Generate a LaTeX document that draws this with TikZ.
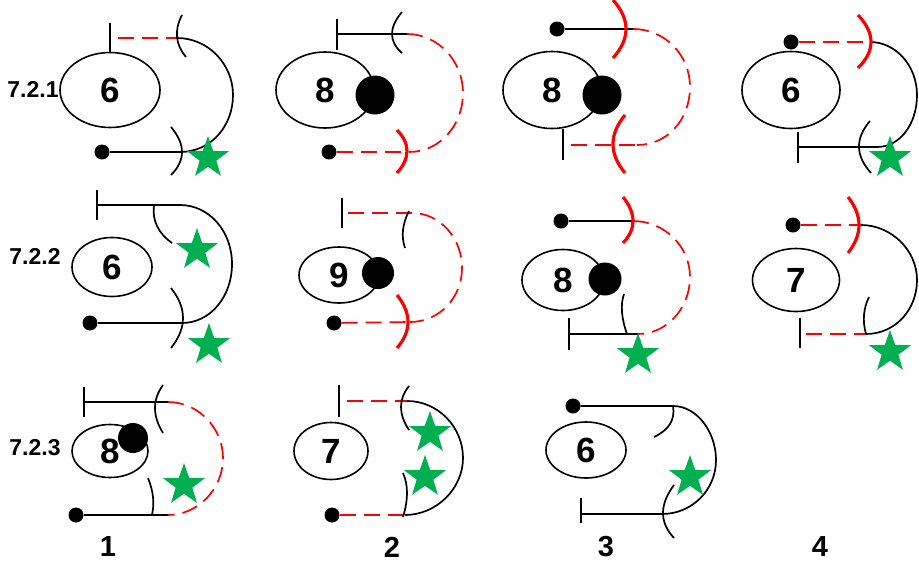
\documentclass[tikz,border=0pt]{standalone}
\usepackage{fontspec}
\setmainfont{Liberation Sans}
\usetikzlibrary{shapes.geometric,calc}

\definecolor{starg}{RGB}{0,176,80}

\tikzset{
  oval/.style={draw, ellipse, line width=1.6pt, inner sep=0pt, outer sep=0pt,
    font=\bfseries\fontsize{35}{35}\selectfont},
  blob/.style={circle, fill=black, inner sep=0pt},
  knob/.style={circle, fill=black, inner sep=0pt, minimum size=15},
  blackline/.style={line width=1.7pt},
  redline/.style={red, line width=1.7pt, dash pattern=on 16pt off 8pt},
  redarc/.style={red, line width=3.2pt},
  greenstar/.style={star, star points=5, star point ratio=2.5, fill=starg,
    inner sep=0pt, minimum size=44},
  rowtag/.style={inner sep=0pt, font=\bfseries\fontsize{23}{23}\selectfont},
  coltag/.style={inner sep=0pt, font=\bfseries\fontsize{29}{29}\selectfont}
}

% three points of a bracket: end, middle, end
\newcommand{\parenarc}[4]{\draw[#1] (#2) .. controls ($1.3333*(#3)-0.3333*(#4)$)
  and ($1.3333*(#3)-0.3333*(#2)$) .. (#4);}

\begin{document}
\begin{tikzpicture}[x=1pt,y=-1pt]
  \useasboundingbox (0,0) rectangle (919,563);

  \node[rowtag] (r1) at (33,89) {7.2.1};
  \node[rowtag] (r2) at (35,256) {7.2.2};
  \node[rowtag] (r3) at (35,448) {7.2.3};
  \node[coltag] (c1) at (108,547) {1};
  \node[coltag] (c2) at (392,547) {2};
  \node[coltag] (c3) at (606,547) {3};
  \node[coltag] (c4) at (820,547) {4};

  % 7.2.1 / 1
  \node[oval, minimum width=100, minimum height=75] (e11) at (110,90) {6};
  \node[knob] (d11) at (102,152) {};
  \coordinate (s11) at (110,38);
  \coordinate (t11) at (177,38);
  \coordinate (b11) at (180,152);
  \draw[blackline] (s11) +(0,-15) -- +(0,15);
  \draw[redline] ([xshift=8pt]s11) -- (t11);
  \draw[blackline] (t11) .. controls (208,38) and (233,64) .. (233,95)
    .. controls (233,126) and (211,152) .. (b11);
  \draw[blackline] (d11) -- (b11);
  \parenarc{blackline}{182,15}{177,37}{186,57}
  \parenarc{blackline}{171,127}{182,152}{171,175}

  % 7.2.1 / 2
  \node[oval, minimum width=98, minimum height=76] (e12) at (325,90) {8};
  \node[blob, minimum size=39] (g12) at (375,95) {};
  \node[knob] (d12) at (329,152) {};
  \coordinate (s12) at (337,34);
  \coordinate (t12) at (407,34);
  \coordinate (b12) at (409,152);
  \draw[blackline] (s12) +(0,-15) -- +(0,16);
  \draw[blackline] (s12) -- (t12);
  \draw[redline] (t12) .. controls (438,34) and (463,61) .. (463,93)
    .. controls (463,125) and (440,152) .. (b12);
  \draw[redline] (d12) -- (b12);
  \parenarc{blackline}{402,12}{392,34}{402,53}
  \parenarc{redarc}{397,130}{407,151}{397,173}

  % 7.2.1 / 3
  \node[oval, minimum width=98, minimum height=77] (e13) at (552,90) {8};
  \node[blob, minimum size=39] (g13) at (602,95) {};
  \node[knob] (d13) at (557,29) {};
  \coordinate (s13) at (563,145);
  \coordinate (t13) at (633,29);
  \coordinate (b13) at (637,145);
  \draw[blackline] (s13) +(0,-16) -- +(0,15);
  \draw[blackline] (d13) -- (t13);
  \draw[redline] (t13) .. controls (665,29) and (690,55) .. (690,87)
    .. controls (690,119) and (668,145) .. (b13);
  \draw[redline] ([xshift=8pt]s13) -- (b13);
  \parenarc{redarc}{613,0}{626,29}{613,58}
  \parenarc{redarc}{625,115}{613,144}{625,173}

  % 7.2.1 / 4
  \node[oval, minimum width=98, minimum height=77] (e14) at (791,90) {6};
  \node[knob] (d14) at (791,42) {};
  \coordinate (s14) at (798,147);
  \coordinate (t14) at (870,42);
  \coordinate (b14) at (877,147);
  \draw[blackline] (s14) +(0,-15) -- +(0,16);
  \draw[redline] (d14) -- (t14);
  \draw[blackline] (t14) .. controls (896,42) and (917,66) .. (917,95)
    .. controls (917,124) and (900,147) .. (b14);
  \draw[blackline] (s14) -- (b14);
  \parenarc{redarc}{858,15}{871,42}{858,68}
  \parenarc{blackline}{870,121}{859,147}{871,173}

  % 7.2.2 / 1
  \node[oval, minimum width=80, minimum height=59] (e21) at (112,267) {6};
  \node[knob] (d21) at (90,323) {};
  \coordinate (s21) at (97,205);
  \coordinate (t21) at (180,205);
  \coordinate (b21) at (182,323);
  \draw[blackline] (s21) +(0,-15) -- +(0,15);
  \draw[blackline] (s21) -- (t21) .. controls (209,205) and (232,231) .. (232,264)
    .. controls (232,297) and (210,323) .. (b21);
  \draw[blackline] (d21) -- (b21);
  \parenarc{blackline}{154,205}{157,226}{172,243}
  \parenarc{blackline}{171,288}{183,318}{171,348}

  % 7.2.2 / 2
  \node[oval, minimum width=80, minimum height=56] (e22) at (339,275) {9};
  \node[blob, minimum size=32] (g22) at (378,273) {};
  \node[knob] (d22) at (334,323) {};
  \coordinate (s22) at (342,213);
  \coordinate (t22) at (412,213);
  \coordinate (b22) at (410,322);
  \draw[blackline] (s22) +(0,-15) -- +(0,15);
  \draw[redline] ([xshift=6pt]s22) -- (t22) .. controls (440,213) and (462,238) .. (462,268)
    .. controls (462,298) and (439,322) .. (b22);
  \draw[redline] (d22) -- (b22);
  \parenarc{blackline}{409,211}{403,230}{405,248}
  \parenarc{redarc}{397,295}{408,322}{397,348}

  % 7.2.2 / 3
  \node[oval, minimum width=82, minimum height=61] (e23) at (563,280) {8};
  \node[blob, minimum size=33] (g23) at (605,279) {};
  \node[knob] (d23) at (561,221) {};
  \coordinate (s23) at (569,334);
  \coordinate (t23) at (633,221);
  \coordinate (b23) at (638,334);
  \draw[blackline] (s23) +(0,-16) -- +(0,16);
  \draw[blackline] (d23) -- (t23);
  \draw[redline] (t23) .. controls (664,221) and (690,246) .. (690,277)
    .. controls (690,308) and (667,334) .. (b23);
  \draw[blackline] (s23) -- (b23);
  \parenarc{redarc}{623,197}{633,221}{623,243}
  \parenarc{blackline}{624,294}{622,312}{627,334}

  % 7.2.2 / 4
  \node[oval, minimum width=87, minimum height=63] (e24) at (796,280) {7};
  \node[knob] (d24) at (793,225) {};
  \coordinate (s24) at (800,334);
  \coordinate (t24) at (861,225);
  \coordinate (b24) at (866,334);
  \draw[blackline] (s24) +(0,-16) -- +(0,14);
  \draw[redline] (d24) -- (t24);
  \draw[blackline] (t24) .. controls (891,225) and (917,250) .. (917,280)
    .. controls (917,310) and (895,334) .. (b24);
  \draw[redline] ([xshift=6pt]s24) -- (b24);
  \parenarc{redarc}{848,197}{859,225}{848,253}
  \parenarc{blackline}{869,297}{864,315}{866,334}

  % 7.2.3 / 1
  \node[oval, minimum width=76, minimum height=53] (e31) at (110,451) {8};
  \node[blob, minimum size=30] (g31) at (133,438) {};
  \node[knob] (d31) at (76,515) {};
  \coordinate (s31) at (84,402);
  \coordinate (t31) at (168,402);
  \coordinate (b31) at (168,515);
  \draw[blackline] (s31) +(0,-15) -- +(0,15);
  \draw[blackline] (s31) -- (t31);
  \draw[redline] (t31) .. controls (198,402) and (223,428) .. (223,458)
    .. controls (223,489) and (198,515) .. (b31);
  \draw[blackline] (d31) -- (b31);
  \parenarc{blackline}{163,385}{155,408}{163,433}
  \parenarc{blackline}{148,478}{153,497}{152,515}

  % 7.2.3 / 2
  \node[oval, minimum width=74, minimum height=57] (e32) at (331,451) {7};
  \node[knob] (d32) at (332,515) {};
  \coordinate (s32) at (339,401);
  \coordinate (t32) at (407,401);
  \coordinate (b32) at (405,515);
  \draw[blackline] (s32) +(0,-16) -- +(0,16);
  \draw[redline] ([xshift=8pt]s32) -- (t32);
  \draw[blackline] (t32) .. controls (438,401) and (463,427) .. (463,458)
    .. controls (463,489) and (436,515) .. (b32);
  \draw[redline] (d32) -- (b32);
  \parenarc{blackline}{409,386}{401,407}{409,430}
  \parenarc{blackline}{403,473}{407,493}{403,517}

  % 7.2.3 / 3
  \node[oval, minimum width=80, minimum height=56] (e33) at (586,450) {6};
  \node[knob] (d33) at (573,406) {};
  \coordinate (s33) at (581,514);
  \coordinate (t33) at (673,406);
  \coordinate (b33) at (662,514);
  \draw[blackline] (s33) +(0,-16) -- +(0,9);
  \draw[blackline] (d33) -- (t33) .. controls (697,406) and (716,432) .. (716,460)
    .. controls (716,490) and (692,514) .. (b33) -- (s33);
  \parenarc{blackline}{673,406}{670,424}{654,437}
  \parenarc{blackline}{674,485}{663,513}{674,538}

  % stars on top
  \node[greenstar] (st11) at (208,158) {};
  \node[greenstar] (st14) at (890,158) {};
  \node[greenstar] (st21a) at (197,250) {};
  \node[greenstar] (st21b) at (209,345) {};
  \node[greenstar] (st23) at (638,355) {};
  \node[greenstar] (st24) at (890,352) {};
  \node[greenstar] (st31) at (184,485) {};
  \node[greenstar] (st32a) at (430,433) {};
  \node[greenstar] (st32b) at (425,477) {};
  \node[greenstar] (st33) at (690,477) {};
\end{tikzpicture}
\end{document}
